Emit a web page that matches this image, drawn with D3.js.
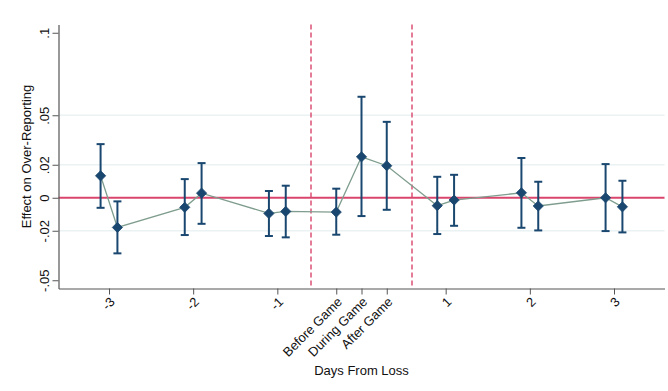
<!DOCTYPE html>
<html>
<head>
<meta charset="utf-8">
<script src="https://cdn.jsdelivr.net/npm/d3@7"></script>
<style>
  body { margin: 0; background: #fff; }
  text { font-family: "Liberation Sans", Arial, sans-serif; fill: #111; }
</style>
</head>
<body>
<svg id="chart" width="668" height="391"></svg>
<script>
// x positions: days offset by +/-0.1, game-day points at -0.3, 0, 0.3
const xPos   = [-3.1, -2.9, -2.1, -1.9, -1.1, -0.9, -0.3, 0, 0.3, 0.9, 1.1, 1.9, 2.1, 2.9, 3.1];
const coef   = [0.0133, -0.018, -0.0058, 0.0028, -0.0095, -0.0083, -0.0087, 0.0248, 0.0194, -0.0048, -0.0014, 0.003, -0.005, 0.0, -0.0055];
const ciHigh = [0.0325, -0.0022, 0.0113, 0.021, 0.0041, 0.0073, 0.0055, 0.0612, 0.046, 0.0127, 0.0139, 0.0241, 0.0097, 0.0204, 0.0103];
const ciLow  = [-0.0061, -0.0337, -0.0226, -0.0158, -0.0232, -0.024, -0.0224, -0.0111, -0.0073, -0.022, -0.017, -0.0182, -0.0198, -0.0202, -0.021];

const xTicks = [-3, -2, -1, -0.3, 0, 0.3, 1, 2, 3];
const xTickLabels = ['-3', '-2', '-1', 'Before Game', 'During Game', 'After Game', '1', '2', '3'];
const yTicks = [0.1, 0.05, 0.02, 0, -0.02, -0.05];
const yTickLabels = ['.1', '.05', '.02', '0', '-.02', '-.05'];
const yGrid = [0.05, 0.02, -0.02];
const vLines = [-0.6, 0.6];

const navy = '#1a476f';
const red = '#d9456c';

const svg = d3.select('#chart');
const mLeft = 58.5, mRight = 664.5, mTop = 24.5, mBottom = 288.5;

const x = d3.scaleLinear().domain([-3.6, 3.6]).range([mLeft, mRight]);
const y = d3.scaleLinear().domain([-0.055, 0.105]).range([mBottom, mTop]);

const rows = xPos.map((v, i) => ({ x: v, b: coef[i], hi: ciHigh[i], lo: ciLow[i] }));

// gridlines
svg.append('g').selectAll('line').data(yGrid).join('line')
  .attr('x1', mLeft).attr('x2', mRight)
  .attr('y1', d => y(d)).attr('y2', d => y(d))
  .attr('stroke', '#eaf2f3').attr('stroke-width', 1.5);

// reference lines
svg.append('line')
  .attr('x1', mLeft).attr('x2', mRight)
  .attr('y1', y(0)).attr('y2', y(0))
  .attr('stroke', red).attr('stroke-width', 1.8);

svg.append('g').selectAll('line').data(vLines).join('line')
  .attr('x1', d => x(d)).attr('x2', d => x(d))
  .attr('y1', mTop).attr('y2', mBottom)
  .attr('stroke', red).attr('stroke-width', 1.4)
  .attr('stroke-dasharray', '5,3');

// connecting line
svg.append('path').datum(rows)
  .attr('fill', 'none').attr('stroke', '#7f9d8e').attr('stroke-width', 1.3)
  .attr('d', d3.line().x(d => x(d.x)).y(d => y(d.b)));

// error bars
const bars = svg.append('g').attr('stroke', navy).attr('stroke-width', 2);
bars.selectAll('line.v').data(rows).join('line').attr('class', 'v')
  .attr('x1', d => x(d.x)).attr('x2', d => x(d.x))
  .attr('y1', d => y(d.hi)).attr('y2', d => y(d.lo));
bars.selectAll('line.hi').data(rows).join('line').attr('class', 'hi')
  .attr('x1', d => x(d.x) - 4).attr('x2', d => x(d.x) + 4)
  .attr('y1', d => y(d.hi)).attr('y2', d => y(d.hi));
bars.selectAll('line.lo').data(rows).join('line').attr('class', 'lo')
  .attr('x1', d => x(d.x) - 4).attr('x2', d => x(d.x) + 4)
  .attr('y1', d => y(d.lo)).attr('y2', d => y(d.lo));

// markers
svg.append('g').selectAll('path').data(rows).join('path')
  .attr('transform', d => `translate(${x(d.x)},${y(d.b)}) rotate(45)`)
  .attr('d', 'M-3.6,-3.6H3.6V3.6H-3.6Z')
  .attr('fill', navy).attr('stroke', navy).attr('stroke-width', 0.8);

// y axis
const yAxis = svg.append('g').attr('transform', `translate(${mLeft},0)`)
  .call(d3.axisLeft(y).tickValues(yTicks).tickSize(6).tickSizeOuter(0)
    .tickFormat((d, i) => yTickLabels[i]));
yAxis.select('.domain').attr('stroke', '#555').attr('stroke-width', 1.2);
yAxis.selectAll('.tick line').attr('stroke', '#555');
yAxis.selectAll('.tick text')
  .attr('font-size', 13).attr('x', 0).attr('y', 0).attr('dy', 0)
  .attr('text-anchor', 'middle')
  .attr('transform', 'translate(-10,0) rotate(-90)');

// x axis
const xAxis = svg.append('g').attr('transform', `translate(0,${mBottom})`)
  .call(d3.axisBottom(x).tickValues(xTicks).tickSize(6).tickSizeOuter(0)
    .tickFormat((d, i) => xTickLabels[i]));
xAxis.select('.domain').attr('stroke', '#555').attr('stroke-width', 1.2);
xAxis.selectAll('.tick line').attr('stroke', '#555');
xAxis.selectAll('.tick text')
  .attr('font-size', 13).attr('x', 0).attr('y', 0).attr('dy', '0.35em')
  .attr('text-anchor', 'end')
  .attr('transform', 'translate(3,11) rotate(-45)');

// titles
svg.append('text')
  .attr('x', (mLeft + mRight) / 2).attr('y', 375)
  .attr('text-anchor', 'middle').attr('font-size', 13)
  .text('Days From Loss');

svg.append('text')
  .attr('transform', `translate(31,${(mTop + mBottom) / 2}) rotate(-90)`)
  .attr('text-anchor', 'middle').attr('font-size', 13)
  .text('Effect on Over-Reporting');
</script>
</body>
</html>
